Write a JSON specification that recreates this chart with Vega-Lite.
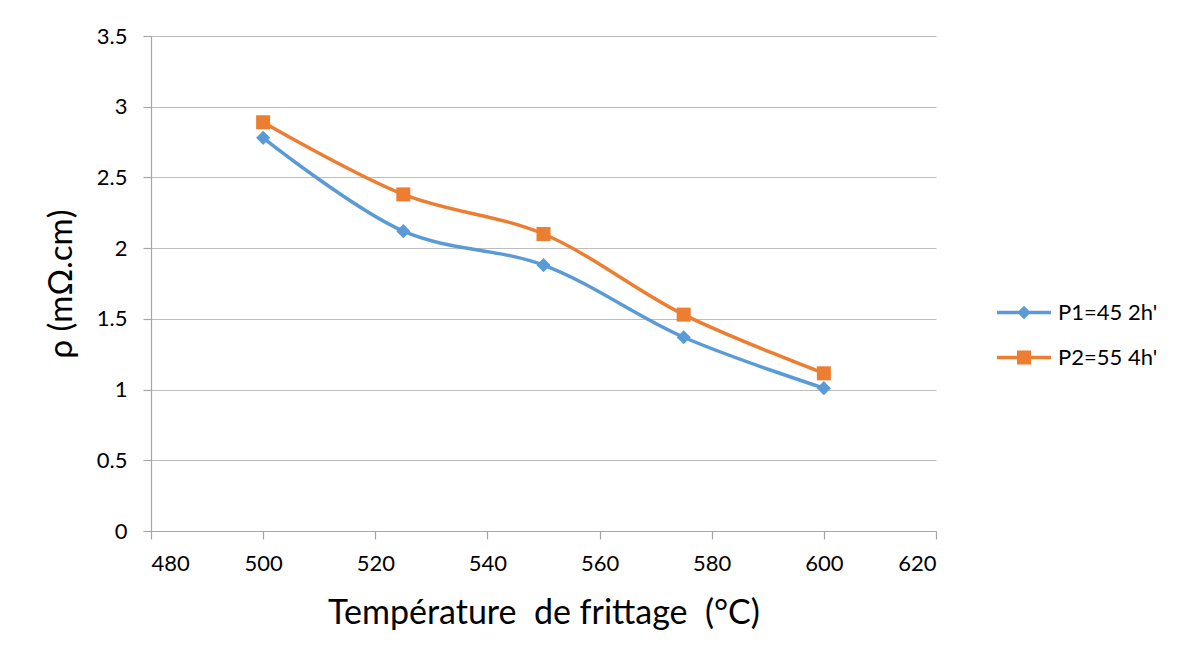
{
  "$schema": "https://vega.github.io/schema/vega-lite/v6.json",
  "width": 785,
  "height": 495,
  "autosize": {"type": "none"},
  "padding": {"left": 151, "top": 36, "right": 250, "bottom": 133},
  "background": "white",
  "config": {
    "font": "Lato",
    "view": {"stroke": null},
    "axis": {
      "labelFont": "Lato",
      "titleFont": "Lato",
      "labelFontSize": 22,
      "titleFontSize": 34,
      "titleFontWeight": "normal",
      "labelColor": "#000000",
      "titleColor": "#000000",
      "gridColor": "#BDBDBD",
      "gridWidth": 1.2,
      "domainColor": "#A6A6A6",
      "domainWidth": 1.2,
      "tickColor": "#A6A6A6",
      "tickWidth": 1.2,
      "tickSize": 8
    },
    "legend": {"labelFont": "Lato"}
  },
  "data": {
    "values": [
      {"T": 500, "rho": 2.78, "serie": "P1=45 2h'"},
      {"T": 525, "rho": 2.12, "serie": "P1=45 2h'"},
      {"T": 550, "rho": 1.88, "serie": "P1=45 2h'"},
      {"T": 575, "rho": 1.37, "serie": "P1=45 2h'"},
      {"T": 600, "rho": 1.01, "serie": "P1=45 2h'"},
      {"T": 500, "rho": 2.89, "serie": "P2=55 4h'"},
      {"T": 525, "rho": 2.38, "serie": "P2=55 4h'"},
      {"T": 550, "rho": 2.10, "serie": "P2=55 4h'"},
      {"T": 575, "rho": 1.53, "serie": "P2=55 4h'"},
      {"T": 600, "rho": 1.115, "serie": "P2=55 4h'"}
    ]
  },
  "encoding": {
    "x": {
      "field": "T",
      "type": "quantitative",
      "scale": {"domain": [480, 620], "nice": false, "zero": false},
      "axis": {
        "values": [480, 500, 520, 540, 560, 580, 600, 620],
        "grid": false,
        "labelPadding": 14,
        "title": "Température\u00a0 de frittage\u00a0 (°C)",
        "titlePadding": 22
      }
    },
    "y": {
      "field": "rho",
      "type": "quantitative",
      "scale": {"domain": [0, 3.5], "nice": false},
      "axis": {
        "values": [0, 0.5, 1, 1.5, 2, 2.5, 3, 3.5],
        "labelExpr": "'' + datum.value",
        "labelPadding": 16,
        "title": "ρ (mΩ.cm)",
        "titleFontSize": 33,
        "titlePadding": 18
      }
    },
    "color": {
      "field": "serie",
      "type": "nominal",
      "scale": {"domain": ["P1=45 2h'", "P2=55 4h'"], "range": ["#5B9BD5", "#ED7D31"]},
      "legend": {
        "title": null,
        "orient": "none",
        "legendX": 846,
        "legendY": 263,
        "padding": 0,
        "labelFontSize": 22,
        "labelColor": "#000000",
        "labelOffset": 34,
        "rowPadding": 20,
        "symbolSize": 729,
        "symbolStrokeWidth": 0,
        "encode": {
          "symbols": {
            "update": {
              "shape": {"signal": "indexof(datum.label, 'P1') >= 0 ? 'M-1,-0.13H3V0.13H-1Z M1,-0.5L1.5,0L1,0.5L0.5,0Z' : 'M-1,-0.13H3V0.13H-1Z M0.48,-0.52H1.52V0.52H0.48Z'"},
              "fill": {"scale": "color", "field": "value"},
              "strokeWidth": {"value": 0}
            }
          }
        }
      }
    }
  },
  "layer": [
    {
      "mark": {"type": "line", "interpolate": "catmull-rom", "strokeWidth": 3.5}
    },
    {
      "transform": [{"filter": "datum.serie == 'P1=45 2h\\''"}],
      "mark": {"type": "point", "shape": "diamond", "filled": true, "opacity": 1, "size": 200}
    },
    {
      "transform": [{"filter": "datum.serie == 'P2=55 4h\\''"}],
      "mark": {"type": "point", "shape": "square", "filled": true, "opacity": 1, "size": 196}
    }
  ]
}
